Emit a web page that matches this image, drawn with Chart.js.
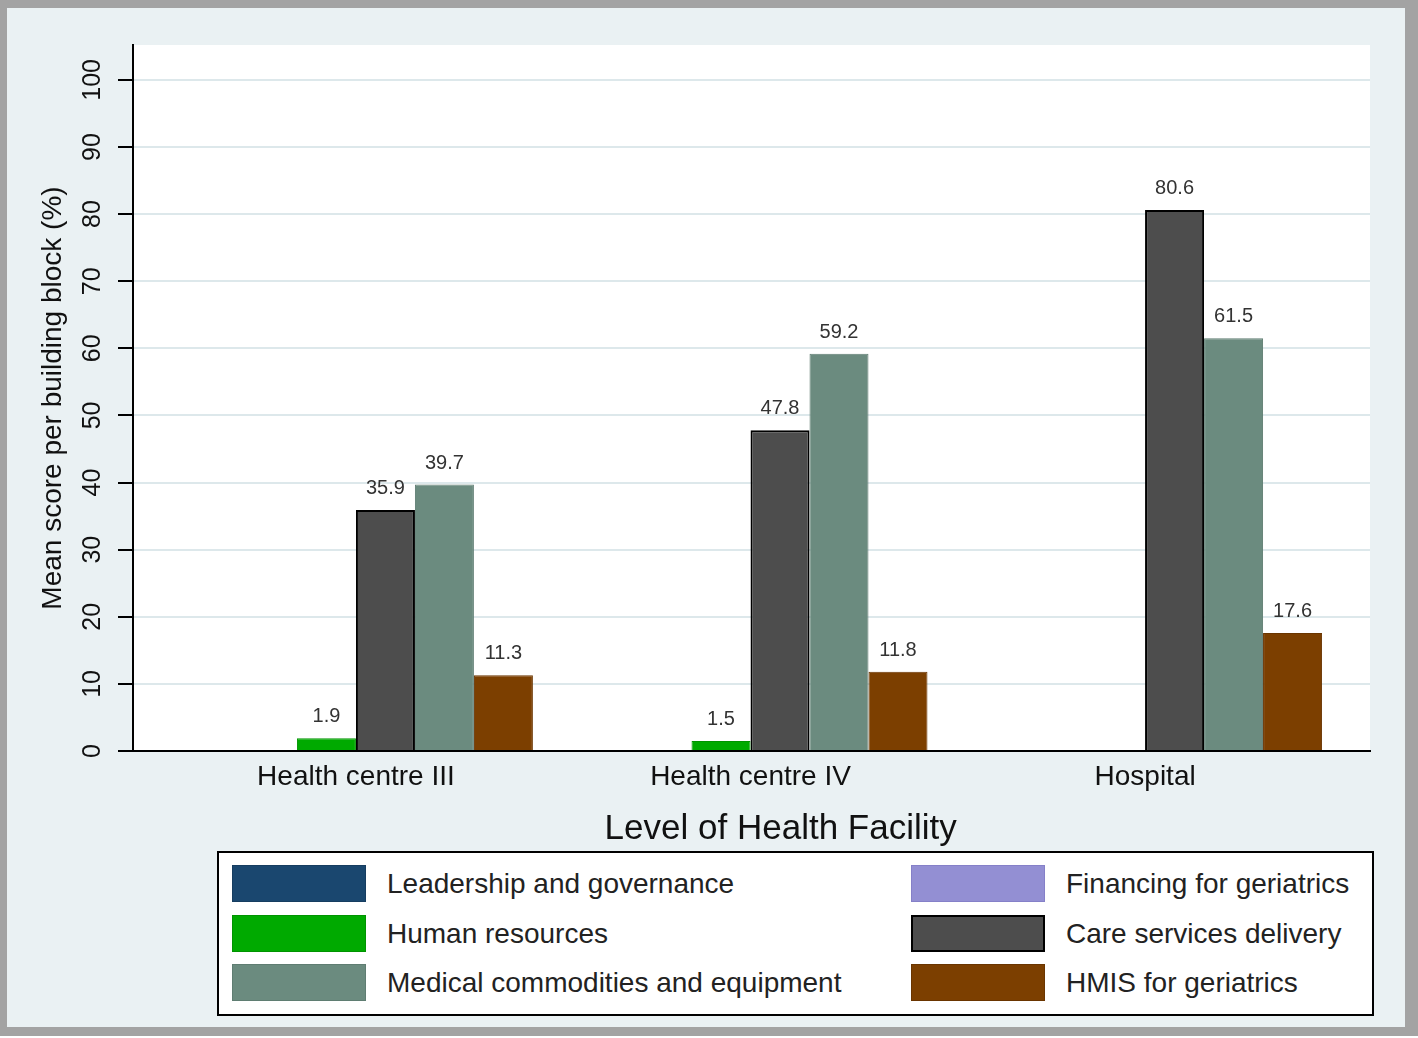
<!DOCTYPE html>
<html>
<head>
<meta charset="utf-8">
<script src="https://cdn.jsdelivr.net/npm/chart.js@4/dist/chart.umd.min.js"></script>
<style>
    body { margin: 0; width: 1418px; height: 1038px; background: #fff; position: relative; overflow: hidden;
           font-family: 'Liberation Sans', Arial, sans-serif; }
    #frame { position: absolute; left: 0; top: 0; width: 1418px; height: 1036px; box-sizing: border-box;
             border-style: solid; border-color: #a3a3a3; border-width: 8px 13px 9px 7px; background: #eaf1f3; }
    #chart { position: absolute; left: 0; top: 0; }
    #legend { position: absolute; left: 217px; top: 851px; width: 1157px; height: 165px; box-sizing: border-box;
              border: 2px solid #000; background: #fff; }
    .swatch { position: absolute; width: 134px; height: 37px; box-sizing: border-box; }
    .label { position: absolute; height: 37px; line-height: 37px; font-size: 28px; color: #222; white-space: nowrap; }
</style>
</head>
<body>
<div id="frame"></div>
<canvas id="chart" width="1418" height="860"></canvas>
<div id="legend"></div>
<script>
// categories on the x axis
const categories = ['Health centre III', 'Health centre IV', 'Hospital'];

// series, in bar / legend order
const seriesNames = [
    'Leadership and governance',
    'Financing for geriatrics',
    'Human resources',
    'Care services delivery',
    'Medical commodities and equipment',
    'HMIS for geriatrics'
];
const leadership = [0, 0, 0];
const financing  = [0, 0, 0];
const humanRes   = [1.9, 1.5, 0];
const careDeliv  = [35.9, 47.8, 80.6];
const medical    = [39.7, 59.2, 61.5];
const hmis       = [11.3, 11.8, 17.6];

const seriesColors  = ['#1a476f', '#938fd3', '#00aa00', '#4d4d4d', '#6b8b7f', '#7c3f00'];
const seriesBorders = ['#163d60', '#8580c8', '#009400', '#000000', '#5f7d72', '#6a3500'];

const yTicks = [0, 10, 20, 30, 40, 50, 60, 70, 80, 90, 100];

const FONT = "'Liberation Sans', Arial, sans-serif";
Chart.defaults.font.family = FONT;

const allSeries = [leadership, financing, humanRes, careDeliv, medical, hmis];

const datasets = allSeries.map((vals, i) => ({
    label: seriesNames[i],
    data: vals.map((v, j) => ({ x: j, y: v })),
    backgroundColor: seriesColors[i],
    borderColor: seriesBorders[i],
    borderWidth: i === 3 ? 2 : 1,
    borderSkipped: 'start',
    categoryPercentage: 0.897,
    barPercentage: 1
}));

// white plot region
const plotBg = {
    id: 'plotBg',
    beforeDraw(chart) {
        const { ctx, chartArea: a } = chart;
        ctx.save();
        ctx.fillStyle = '#ffffff';
        ctx.fillRect(a.left, a.top, a.right - a.left, a.bottom - a.top);
        ctx.restore();
    }
};

// numbers over the bars
const valueLabels = {
    id: 'valueLabels',
    afterDatasetsDraw(chart) {
        const ctx = chart.ctx;
        ctx.save();
        ctx.font = '20px ' + FONT;
        ctx.fillStyle = '#333';
        ctx.textAlign = 'center';
        ctx.textBaseline = 'alphabetic';
        chart.data.datasets.forEach((ds, i) => {
            chart.getDatasetMeta(i).data.forEach((bar, j) => {
                const v = ds.data[j].y;
                if (v > 0) ctx.fillText(v.toFixed(1), bar.x, bar.y - 16);
            });
        });
        ctx.restore();
    }
};

const gridColor = '#dde8eb';

new Chart(document.getElementById('chart').getContext('2d'), {
    type: 'bar',
    data: { datasets },
    plugins: [plotBg, valueLabels],
    options: {
        responsive: false,
        animation: false,
        layout: { padding: { left: 8, top: 45, right: 48, bottom: 8 } },
        plugins: { legend: { display: false }, tooltip: { enabled: false } },
        scales: {
            x: {
                type: 'linear',
                offset: false,
                min: -0.565,
                max: 2.57,
                grid: { display: false, offset: false },
                border: { color: '#000', width: 2, z: 1 },
                ticks: {
                    stepSize: 1,
                    includeBounds: false,
                    padding: 1,
                    color: '#111',
                    font: { size: 28 },
                    callback: v => categories[v] ?? ''
                },
                title: {
                    display: true,
                    // the title sits a little right of the axis centre in the original
                    text: '\u00a0\u00a0\u00a0\u00a0\u00a0\u00a0Level of Health Facility',
                    color: '#111',
                    font: { size: 35 },
                    padding: { top: 4, bottom: 2 }
                },
                afterFit: s => { s.height = 101; }
            },
            y: {
                min: 0,
                max: 105.2,
                afterBuildTicks: s => { s.ticks = yTicks.map(v => ({ value: v })); },
                grid: {
                    color: c => c.tick && c.tick.value === 0 ? 'rgba(0,0,0,0)' : gridColor,
                    lineWidth: 2,
                    tickColor: '#000',
                    tickWidth: 2,
                    tickLength: 15
                },
                border: { color: '#000', width: 2, z: 1 },
                ticks: {
                    minRotation: 90,
                    maxRotation: 90,
                    crossAlign: 'center',
                    padding: 4,
                    color: '#111',
                    font: { size: 25 }
                },
                title: {
                    display: true,
                    text: 'Mean score per building block (%)',
                    color: '#111',
                    font: { size: 28 },
                    padding: { top: 28, bottom: 0 }
                },
                afterFit: s => { s.width = 125; }
            }
        }
    }
});

// legend: two columns, row by row
const legend = document.getElementById('legend');
seriesNames.forEach((name, i) => {
    const col = i % 2, row = Math.floor(i / 2);
    const sw = document.createElement('div');
    sw.className = 'swatch';
    sw.style.left = (col ? 692 : 13) + 'px';
    sw.style.top = (12 + row * 49.5) + 'px';
    sw.style.background = seriesColors[i];
    sw.style.border = (i === 3 ? 2 : 1) + 'px solid ' + seriesBorders[i];
    legend.appendChild(sw);
    const lb = document.createElement('div');
    lb.className = 'label';
    lb.style.left = (col ? 847 : 168) + 'px';
    lb.style.top = (12 + row * 49.5) + 'px';
    lb.textContent = name;
    legend.appendChild(lb);
});
</script>
</body>
</html>
